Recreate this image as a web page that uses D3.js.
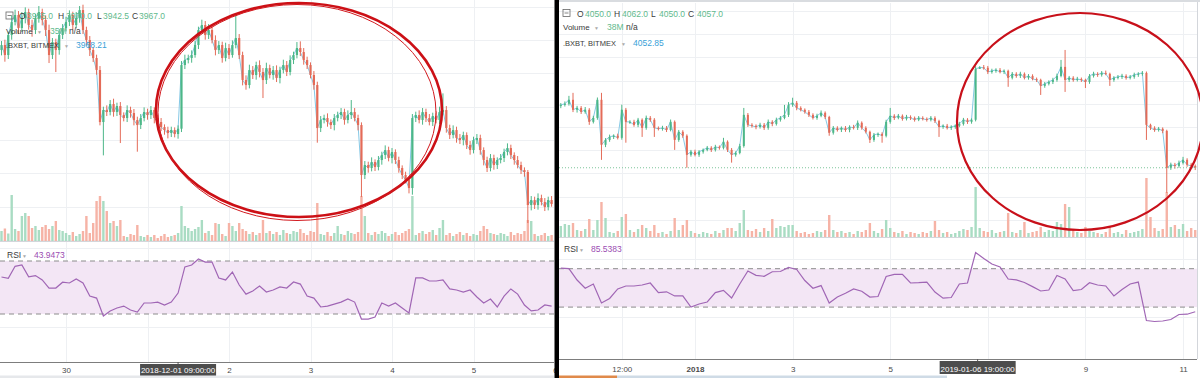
<!DOCTYPE html>
<html><head><meta charset="utf-8">
<script src="https://cdn.jsdelivr.net/npm/d3@7"></script>
<style>
body{margin:0;background:#fff;}
svg{display:block;font-family:"Liberation Sans",Arial,sans-serif;}
</style></head>
<body><svg id="c" width="1200" height="378"></svg>
<script>
// ================= DATA =================
// Left chart: hourly candles of XBTUSD starting 2018-11-29 05:00 UTC
const leftStart = Date.UTC(2018, 10, 29, 5);
const leftOpen0 = 4085;
const leftClose = [
 4092.5,4077.5,4107.5,4127,4137.5,4118,4133,4142,4122.5,4115,
 4133,4142,4130,4115,4077.5,4097,4085,4107.5,4118,4127,
 4137.5,4122.5,4133,4145,4115,4100,4085,4073,4055,3977,
 3995,3992,4004,3992,4001,3987.5,3983,3995,3990.5,3980,
 3972.5,3983,3992,3987.5,3995,3983,3977,3969.5,3965,3960.5,
 3965,3959,3967,4062.5,4070,4073,4077.5,4092.5,4115,4122.5,
 4107.5,4115,4100,4085,4092.5,4073,4088,4077.5,4092.5,4103,
 4077.5,4040,4032.5,4055,4047.5,4062.5,4052,4040,4058,4047.5,
 4055,4043,4055,4062.5,4052,4070,4077.5,4088,4082,4070,
 4062.5,4047.5,4032.5,3968,3980,3983,3977,3972.5,3983,3987.5,
 3992,3980,3987.5,3992,3983,3972.5,3897.5,3912.5,3908,3917,
 3909.5,3920,3927.5,3935,3923,3932,3920,3908,3897.5,3890,
 3878,3983,3987.5,3980,3992,3983,3977,3986,3980,3992,
 3995,3968,3957.5,3965,3953,3950,3957.5,3942.5,3935,3950,
 3953,3935,3920,3908,3923,3912.5,3920,3923,3932,3938,
 3927.5,3920,3912.5,3905,3902,3852.5,3860,3852.5,3863,3857,
 3849.5,3860,3854];
const leftWickUp = [
 6,8,5,10,8,6,9,7,5,8, 6,9,5,7,8,6,5,9,6,8, 7,5,9,6,8,5,6,4,5,6,
 5,7,6,8,5,6,4,7,5,6, 5,6,7,5,6,4,5,6,4,5, 5,4,5,6,8,5,7,6,5,8,
 6,9,5,7,6,5,8,6,7,35, 6,5,7,8,6,5,7,6,8,5, 6,7,5,8,6,7,5,9,10,6,
 5,4,6,5,6,5,7,4,6,5, 6,5,7,18,6,5,4,6,5,7, 4,6,5,7,5,6,4,5,4,5,
 4,6,5,7,6,5,6,5,7,8, 25,6,5,7,5,6,5,4,6,5, 6,5,4,5,6,5,4,6,5,7,
 5,4,6,5,4,3,6,5,7,5, 6,5,6];
const leftWickDown = [
 8,10,6,7,5,9,6,8,7,10, 6,7,8,9,12,6,33,7,6,5, 6,8,5,7,6,8,9,6,7,5,
 50,6,5,7,6,42,5,6,7,8, 40,6,5,7,6,8,5,6,7,8, 6,5,7,5,6,5,7,4,6,5,
 7,6,5,8,6,7,5,6,4,5, 6,8,7,5,6,7,8,27,6,5, 7,6,8,5,6,5,6,5,6,7,
 6,5,7,22,6,5,7,6,8,5, 6,7,5,6,5,8,33,6,7,5, 6,5,7,6,5,8,6,7,6,5,
 8,10,6,5,7,6,5,6,5,6, 5,7,6,5,7,6,8,6,7,5, 6,7,8,6,5,7,6,5,6,5,
 6,7,5,6,7,27,8,6,7,5, 6,5,4];
const leftVolume = [
 20,25,15,92,24,20,50,56,50,26, 30,22,28,32,24,30,40,22,20,16,
 12,18,10,14,20,50,16,36,80,90, 80,60,36,40,30,42,10,8,14,12,
 32,10,8,12,8,12,6,10,14,8, 10,12,16,70,30,26,20,24,28,42,
 16,20,12,36,34,14,10,36,30,20, 36,24,20,14,18,12,16,42,16,20,
 14,18,12,22,16,14,20,18,24,16, 12,20,18,76,14,12,18,10,16,30,
 14,12,20,16,14,18,90,50,16,12, 18,14,20,16,10,14,18,12,16,20,
 24,90,12,16,20,14,18,22,12,26, 42,12,16,10,14,18,12,16,10,14,
 12,20,30,24,16,14,12,16,14,10, 18,12,16,14,20,42,40,14,10,12,
 16,10,12];
// RSI(14), sampled every 2 hours from leftStart
const leftRsi = [
 57.9,57,66,67,58,59,55.7,49.6,49.6,54, 53.4,56.5,53.4,43.5,42,28.5,32.3,34.5,36,33,
 31.5,38.3,38.3,39,36.8,39,45.8,65.5,67,71.5, 69.2,69.2,57.2,55.7,61.7,51.9,45,47.4,51.1,46.6,
 48.1,50.4,49.6,54.2,52.6,43.5,42,35.3,36,37.5, 39,41.3,39,26.2,26.2,27.7,38.3,36,38.3,34.5,
 30.8,57.2,57.2,54.9,54.9,55.7,48.9,48.1,46.6,48.1, 42.8,38.3,41.3,35.3,43.5,48.9,45,36.8,32.3,33,
 36.8,36];
const leftTickDates = [Date.UTC(2018,10,30), Date.UTC(2018,11,2), Date.UTC(2018,11,3), Date.UTC(2018,11,4), Date.UTC(2018,11,5), Date.UTC(2018,11,6)];
const leftTickLabels = ["30","2","3","4","5","6"];
const leftCross = {t: Date.UTC(2018,11,1,9), label: "2018-12-01 09:00:00"};

// Right chart: 2-hour candles starting 2018-12-29 06:00 UTC
const rightStart = Date.UTC(2018, 11, 29, 6);
const rightOpen0 = 3890;
const rightClose = [
 3895,3900,3917,3874,3882,3865,3874,3822,3839,3917,
 3723,3744,3757,3762,3753,3874,3822,3822,3809,3831,
 3796,3839,3831,3796,3792,3796,3787,3822,3744,3779,
 3762,3680,3693,3680,3693,3701,3710,3701,3714,3710,
 3736,3701,3680,3688,3718,3852,3809,3805,3800,3809,
 3796,3822,3813,3831,3839,3852,3895,3904,3882,3874,
 3865,3852,3839,3848,3861,3843,3775,3796,3787,3796,
 3787,3800,3796,3818,3796,3779,3744,3766,3770,3762,
 3822,3848,3839,3848,3835,3843,3839,3831,3839,3835,
 3831,3839,3826,3800,3805,3796,3800,3805,3813,3831,
 3822,3831,4050,4057,4055,4037,4042,4046,4037,4042,
 4012,4029,4020,4029,4012,4020,4007,4003,3977,3986,
 3994,4003,4020,4059,4003,4012,4003,4007,4003,3994,
 4020,4029,4025,4033,4029,4003,4012,4016,4020,4012,
 4016,4025,4029,4033,3809,3796,3787,3792,3783,3624,
 3637,3632,3645,3658,3637,3632,3624];
const rightWickUp = [
 8,10,17,30,9,8,12,7,9,10, 30,8,10,6,9,22,8,7,9,8, 6,10,8,7,6,9,8,10,6,8,
 7,6,8,9,7,6,8,7,9,6, 17,6,8,7,9,30,8,7,6,9, 8,10,7,9,8,43,12,22,8,7,
 6,8,7,9,10,6,5,8,7,6, 8,7,9,10,6,7,5,8,6,7, 9,34,7,8,6,9,7,6,8,7,
 6,8,7,5,6,8,7,6,9,8, 7,6,12,5,10,8,9,7,8,6, 5,8,7,9,6,8,7,6,5,8,
 7,9,10,30,73,8,7,9,6,5, 8,9,7,8,10,5,7,8,9,7, 8,9,7,8,6,5,7,8,6,5,
 9,8,10,13,7,8,6];
const rightWickDown = [
 9,7,8,10,12,9,8,13,7,8, 65,10,8,9,7,8,90,9,8,10, 39,8,9,39,7,8,9,6,43,8,
 9,56,8,7,9,8,6,9,7,8, 7,9,34,8,6,7,9,8,10,7, 9,8,10,7,8,6,9,8,10,7,
 8,9,7,8,6,9,13,8,7,9, 8,10,7,9,8,7,13,8,9,30, 7,8,9,6,8,7,9,8,6,7,
 8,7,9,43,8,7,9,8,6,7, 9,8,7,0,8,9,7,8,6,9, 39,7,8,9,7,8,6,9,39,8,
 7,9,8,6,52,9,8,7,9,26, 8,7,9,8,6,26,8,7,9,8, 7,8,9,8,65,9,8,7,10,108,
 9,12,8,7,9,8,10];
const rightVolume = [
 22,26,24,28,14,12,16,36,14,34, 70,38,10,8,12,40,46,14,10,16,
 24,18,12,24,8,10,6,12,38,14, 24,34,12,8,6,10,8,6,12,8,
 14,18,18,12,28,54,14,12,16,10, 18,12,36,18,22,20,24,24,12,8,
 10,6,8,12,10,14,44,14,10,12, 8,10,6,12,10,14,28,12,8,16,
 34,18,10,8,12,6,10,8,6,10, 8,12,32,14,8,10,6,8,12,16,
 14,20,100,18,12,10,14,8,10,12, 48,10,8,14,30,8,10,12,20,10,
 14,12,30,26,66,60,16,10,8,20, 12,10,8,6,10,20,8,10,6,14,
 8,10,12,16,118,40,18,12,16,90, 20,24,16,26,12,18,14];
// RSI(14), sampled every 4 hours from rightStart
const rightRsi = [
 70.5,70.1,58.2,49.6,54,34.3,39,48.9,52,52, 53,55.1,45,45.9,41.6,41.6,30.1,33.2,35.3,45.1,
 47.5,39.5,54.1,67.6,63.1,62.1,66.8,67.1,71.3,69.2, 57.7,49.6,52.4,34.3,40.5,44.4,48.9,46.5,40.5,41,
 61.9,64,64,55.1,55.4,56.1,45.7,39.3,40,54.1, 55.1,86.9,80.6,74.9,71.8,59.3,58.4,55.6,51.3,46.8,
 47.8,62.9,59.3,47.3,48.3,55.4,53,52,41.6,48.3, 54.1,56.1,16,15,15.5,17.1,22.3,22.6,25.2];
const rightTickDates = [Date.UTC(2018,11,30,12), Date.UTC(2019,0,1), Date.UTC(2019,0,3), Date.UTC(2019,0,5), Date.UTC(2019,0,9), Date.UTC(2019,0,11)];
const rightTickLabels = ["12:00","2018","3","5","9","11"];
const rightGridExtra = [Date.UTC(2019,0,7)];
const rightCross = {t: Date.UTC(2019,0,6,19), label: "2019-01-06 19:00:00"};

// Header legends
const leftLegend = {o:"3955.0", h:"3970.0", l:"3942.5", c:"3967.0", vol:"35M", idx:"3968.21", rsi:"43.9473"};
const rightLegend = {o:"4050.0", h:"4062.0", l:"4050.0", c:"4057.0", vol:"38M", idx:"4052.85", rsi:"85.5383"};

// ================= DRAWING =================
const HOUR = 3600e3;
const UP = "#4cb788", DOWN = "#e46b58", VUP = "#a9dcc3", VDOWN = "#f6b3a6";
const GRID = "#eef0f3", TXT = "#3b3b3b", GREEN_TXT = "#5fba8d", BLUE_TXT = "#3a9fd8", PURPLE = "#a066b5";

const svg = d3.select("#c");
const defs = svg.append("defs");
svg.append("rect").attr("width",1200).attr("height",378).attr("fill","#fff");

function buildCandles(start, stepH, open0, close, wUp, wDn, vol){
  return close.map((c,i)=>{
    const o = i===0 ? open0 : close[i-1];
    return {t:new Date(start + i*stepH*HOUR), o, c, h:Math.max(o,c)+wUp[i], l:Math.min(o,c)-wDn[i], v:vol[i]};
  });
}

function drawPanel(cfg){
  const g = svg.append("g");
  const {x, y, vy, ry} = cfg;
  const clipM = cfg.id+"m", clipR = cfg.id+"r";
  defs.append("clipPath").attr("id",clipM).append("rect")
    .attr("x",cfg.x0).attr("y",cfg.mainTop).attr("width",cfg.x1-cfg.x0).attr("height",cfg.mainBottom-cfg.mainTop);
  defs.append("clipPath").attr("id",clipR).append("rect")
    .attr("x",cfg.x0).attr("y",cfg.mainBottom+1).attr("width",cfg.x1-cfg.x0).attr("height",cfg.axisY-cfg.mainBottom-1);

  // vertical grid
  const vg = g.append("g");
  cfg.grid.forEach(t=>{
    const xx = Math.round(x(new Date(t)))+0.5;
    if (xx < cfg.x0 || xx > cfg.x1) return;
    vg.append("line").attr("x1",xx).attr("x2",xx).attr("y1",cfg.mainTop).attr("y2",cfg.axisY).attr("stroke",GRID).attr("stroke-width",1);
  });
  // horizontal price grid
  const pg = g.append("g").attr("clip-path",`url(#${clipM})`);
  cfg.priceGrid.forEach(p=>{
    const yy = Math.round(y(p))+0.5;
    pg.append("line").attr("x1",cfg.x0).attr("x2",cfg.x1).attr("y1",yy).attr("y2",yy).attr("stroke",GRID);
  });

  const main = g.append("g").attr("clip-path",`url(#${clipM})`);
  // volume
  main.selectAll("rect.vol").data(cfg.candles).join("rect").attr("class","vol")
    .attr("x",d=>x(d.t)-cfg.volW/2).attr("width",cfg.volW)
    .attr("y",d=>vy(d.v)).attr("height",d=>vy(0)-vy(d.v))
    .attr("fill",d=>d.c>=d.o?VUP:VDOWN);
  // index overlay line (.BXBT)
  main.append("path").datum(cfg.candles)
    .attr("d",d3.line().x(d=>x(d.t)).y(d=>y(d.c)))
    .attr("fill","none").attr("stroke","#86c9e6").attr("stroke-width",1);
  // candles
  const cg = main.selectAll("g.cdl").data(cfg.candles).join("g").attr("class","cdl");
  cg.append("line").attr("x1",d=>x(d.t)).attr("x2",d=>x(d.t))
    .attr("y1",d=>y(d.h)).attr("y2",d=>y(d.l))
    .attr("stroke",d=>d.c>=d.o?UP:DOWN).attr("stroke-width",1);
  cg.append("rect").attr("x",d=>x(d.t)-cfg.bodyW/2).attr("width",cfg.bodyW)
    .attr("y",d=>y(Math.max(d.o,d.c))).attr("height",d=>Math.max(1,Math.abs(y(d.o)-y(d.c))))
    .attr("fill",d=>d.c>=d.o?UP:DOWN);
  if (cfg.priceLine){
    const last = cfg.candles[cfg.candles.length-1].c;
    main.append("line").attr("x1",cfg.x0).attr("x2",cfg.x1).attr("y1",y(last)).attr("y2",y(last))
      .attr("stroke","#7cc49a").attr("stroke-width",1).attr("stroke-dasharray","1,2");
  }
  // pane separator
  g.append("line").attr("x1",cfg.x0).attr("x2",cfg.x1).attr("y1",cfg.mainBottom+0.5).attr("y2",cfg.mainBottom+0.5).attr("stroke","#d3d6db");

  // RSI pane
  const rp = g.append("g").attr("clip-path",`url(#${clipR})`);
  cfg.rsiGrid.forEach(v=>{
    const yy = Math.round(ry(v))+0.5;
    rp.append("line").attr("x1",cfg.x0).attr("x2",cfg.x1).attr("y1",yy).attr("y2",yy).attr("stroke",GRID);
  });
  rp.append("rect").attr("x",cfg.x0).attr("width",cfg.x1-cfg.x0)
    .attr("y",ry(70)).attr("height",ry(30)-ry(70)).attr("fill","#f3e6f5");
  [70,30].forEach(v=>{
    rp.append("line").attr("x1",cfg.x0).attr("x2",cfg.x1).attr("y1",ry(v)).attr("y2",ry(v))
      .attr("stroke","#8c8c8c").attr("stroke-width",1).attr("stroke-dasharray","5,4");
  });
  const rsiPts = cfg.rsi.map((v,i)=>({t:new Date(cfg.start + i*cfg.rsiStepH*HOUR), v}));
  rp.append("path").datum(rsiPts)
    .attr("d",d3.line().x(d=>x(d.t)).y(d=>ry(d.v)))
    .attr("fill","none").attr("stroke",PURPLE).attr("stroke-width",1.2);

  // x axis
  g.append("line").attr("x1",cfg.x0).attr("x2",cfg.x1).attr("y1",cfg.axisY+0.5).attr("y2",cfg.axisY+0.5).attr("stroke","#7d7d7d");
  const xa = g.append("g").attr("transform",`translate(0,${cfg.axisY})`);
  xa.call(d3.axisBottom(x).tickValues(cfg.ticks.map(t=>new Date(t))).tickSize(0).tickPadding(0)
      .tickFormat((d,i)=>cfg.tickLabels[i]));
  xa.select(".domain").remove();
  xa.selectAll("text").attr("y",cfg.labelY-cfg.axisY).attr("dy",0)
    .attr("fill","#4a4a4a").attr("font-size",8)
    .attr("font-family","Liberation Sans, Arial, sans-serif")
    .attr("font-weight",(d,i)=>cfg.tickLabels[i]==="2018"?"bold":"normal");
  // crosshair time label
  const cx = x(new Date(cfg.cross.t));
  g.append("line").attr("x1",cx).attr("x2",cx).attr("y1",cfg.axisY).attr("y2",cfg.axisY+3).attr("stroke","#555");
  const bw = 76;
  g.append("rect").attr("x",cx-bw/2).attr("y",cfg.axisY+2).attr("width",bw).attr("height",13).attr("fill","#4d4d4d");
  g.append("text").attr("x",cx).attr("y",cfg.labelY).attr("text-anchor","middle")
    .attr("font-size",8).attr("fill","#fff").text(cfg.cross.label);

  // legend
  const L = cfg.legend, lp = cfg.legendPos;
  const lg = g.append("g").attr("font-size",8.5);
  lg.append("rect").attr("x",lp.x0).attr("y",lp.r1-7).attr("width",7).attr("height",7)
    .attr("fill","none").attr("stroke","#666").attr("stroke-width",0.8);
  lg.append("line").attr("x1",lp.x0+1.5).attr("x2",lp.x0+5.5).attr("y1",lp.r1-3.5).attr("y2",lp.r1-3.5).attr("stroke","#666").attr("stroke-width",0.8);
  const row1 = [["O",TXT],[L.o,GREEN_TXT],["H",TXT],[L.h,GREEN_TXT],["L",TXT],[L.l,GREEN_TXT],["C",TXT],[L.c,GREEN_TXT]];
  row1.forEach((p,i)=>lg.append("text").attr("x",lp.ohlc[i]).attr("y",lp.r1).attr("fill",p[1]).text(p[0]));
  lg.append("text").attr("x",lp.x0).attr("y",lp.r2).attr("fill",TXT).attr("font-size",8).text("Volume");
  lg.append("text").attr("x",lp.volArrow).attr("y",lp.r2).attr("fill","#aaa").attr("font-size",5).text("▼");
  lg.append("text").attr("x",lp.volVal).attr("y",lp.r2).attr("fill",GREEN_TXT).text(L.vol);
  lg.append("text").attr("x",lp.volNa).attr("y",lp.r2).attr("fill",TXT).text("n/a");
  lg.append("text").attr("x",lp.x0).attr("y",lp.r3).attr("fill",TXT).attr("font-size",7.5).text(".BXBT, BITMEX");
  lg.append("text").attr("x",lp.idxArrow).attr("y",lp.r3).attr("fill","#aaa").attr("font-size",5).text("▼");
  lg.append("text").attr("x",lp.idxVal).attr("y",lp.r3).attr("fill",BLUE_TXT).text(L.idx);
  lg.append("text").attr("x",lp.x0+1).attr("y",lp.rsiY).attr("fill",TXT).text("RSI");
  lg.append("text").attr("x",lp.x0+16).attr("y",lp.rsiY).attr("fill","#aaa").attr("font-size",5).text("▼");
  lg.append("text").attr("x",lp.rsiVal).attr("y",lp.rsiY).attr("fill","#9b4db2").text(L.rsi);
}

// ---- left panel ----
const leftCandles = buildCandles(leftStart, 1, leftOpen0, leftClose, leftWickUp, leftWickDown, leftVolume);
const xL = d3.scaleUtc().domain([new Date(leftStart), new Date(Date.UTC(2018,11,6))]).range([1.5, 555]);
drawPanel({
  id:"L", x0:0, x1:554, mainTop:0, mainBottom:241, axisY:362, labelY:373,
  x:xL,
  y:d3.scaleLinear().domain([3850,4150]).range([206.7,6.7]),
  vy:d3.scaleLinear().domain([0,120]).range([241,181]),
  ry:d3.scaleLinear().domain([30,70]).range([314,261]),
  candles:leftCandles, bodyW:2.2, volW:2.4,
  start:leftStart, rsi:leftRsi, rsiStepH:2,
  priceGrid:d3.range(3800,4151,50), rsiGrid:[20,40,60,80],
  grid:d3.utcDay.range(new Date(Date.UTC(2018,10,30)), new Date(Date.UTC(2018,11,6))).map(d=>+d),
  ticks:leftTickDates, tickLabels:leftTickLabels, cross:leftCross, priceLine:false,
  legend:leftLegend,
  legendPos:{x0:6, r1:19, r2:33.5, r3:47.5, rsiY:258, ohlc:[19,27,58,66,97,103,132,139],
             volArrow:37, volVal:50, volNa:69, idxArrow:64, idxVal:76, rsiVal:34}
});

// ---- right panel ----
const rightCandles = buildCandles(rightStart, 2, rightOpen0, rightClose, rightWickUp, rightWickDown, rightVolume);
const xR = d3.scaleUtc().domain([new Date(rightStart), new Date(Date.UTC(2019,0,11,8))]).range([560.8, 1199.3]);
drawPanel({
  id:"R", x0:559, x1:1197, mainTop:3, mainBottom:237, axisY:359, labelY:372,
  x:xR,
  y:d3.scaleLinear().domain([3400,4300]).range([219.7,11]),
  vy:d3.scaleLinear().domain([0,120]).range([237,177]),
  ry:d3.scaleLinear().domain([30,70]).range([307.1,268.7]),
  candles:rightCandles, bodyW:2.0, volW:2.4,
  start:rightStart, rsi:rightRsi, rsiStepH:4,
  priceGrid:d3.range(3400,4301,100), rsiGrid:[20,40,60,80],
  grid:rightTickDates.concat(rightGridExtra),
  ticks:rightTickDates, tickLabels:rightTickLabels, cross:rightCross, priceLine:true,
  legend:rightLegend,
  legendPos:{x0:563, r1:16.5, r2:30, r3:45.5, rsiY:252, ohlc:[577,585,614,622,651,659,688,697],
             volArrow:594, volVal:607, volNa:626, idxArrow:621, idxVal:633, rsiVal:591}
});

// right panel frame details
svg.append("rect").attr("x",559).attr("y",0).attr("width",641).attr("height",2).attr("fill","#d9dce0");
svg.append("line").attr("x1",1197.5).attr("x2",1197.5).attr("y1",2).attr("y2",359).attr("stroke","#d3d6db");
// bottom strips
svg.append("rect").attr("x",0).attr("y",375.5).attr("width",554).attr("height",3).attr("fill","#e6e8eb");
svg.append("rect").attr("x",559).attr("y",375.5).attr("width",58).attr("height",3).attr("fill","#e08a4a");
svg.append("rect").attr("x",617).attr("y",375.5).attr("width",330).attr("height",3).attr("fill","#cfdbe6");

// hand-drawn red ellipses
svg.append("ellipse").attr("cx",299).attr("cy",110).attr("rx",143).attr("ry",107)
  .attr("fill","none").attr("stroke","#cc1016").attr("stroke-width",2.6);
svg.append("ellipse").attr("cx",297).attr("cy",112.5).attr("rx",139).attr("ry",108)
  .attr("fill","none").attr("stroke","#d21a1f").attr("stroke-width",1);
svg.append("ellipse").attr("cx",1080).attr("cy",121.5).attr("rx",123).attr("ry",108.5)
  .attr("fill","none").attr("stroke","#c8101a").attr("stroke-width",2.2);

// black divider between the two screenshots
svg.append("rect").attr("x",554.5).attr("y",0).attr("width",4.5).attr("height",378).attr("fill","#000");
</script>
</body></html>
